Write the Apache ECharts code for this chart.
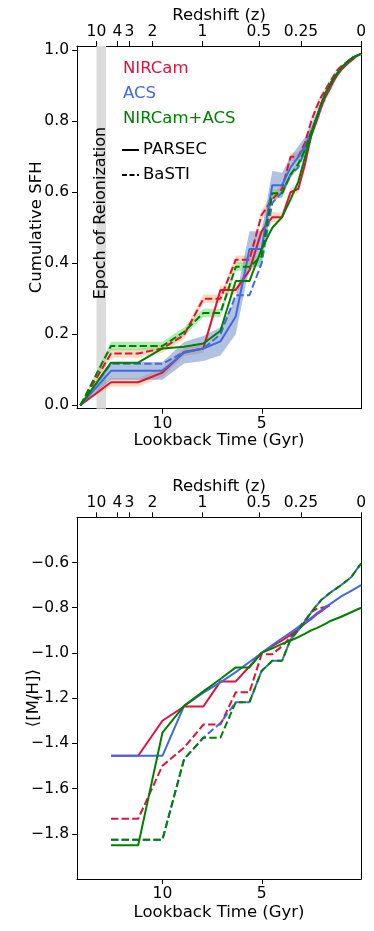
<!DOCTYPE html>
<html><head><meta charset="utf-8">
<script src="https://cdn.jsdelivr.net/npm/echarts@6/dist/echarts.min.js"></script>
<style>html,body{margin:0;padding:0;background:#fff}#c{width:374px;height:931px}</style>
</head><body><div id="c"></div>
<script>
// ---- data ----
const timesTop = [14.13, 12.59, 11.22, 10.0, 8.91, 7.94, 7.08, 6.31, 5.62, 5.01, 4.47, 3.98, 3.55, 3.16, 2.82, 2.51, 2.24, 2.0, 1.78, 1.58, 1.41, 1.26, 1.0, 0.63, 0.4, 0.2, 0];
const sfhNircamParsec = [0, .065, .065, .092, .15, .16, .325, .325, .38, .49, .53, .53, .60, .61, .68, .76, .80, .84, .87, .89, .91, .925, .945, .965, .975, .985, .99];
const sfhNircamBasti  = [0, .146, .146, .16, .198, .30, .30, .41, .41, .536, .58, .61, .70, .70, .74, .80, .84, .87, .89, .91, .925, .94, .955, .97, .98, .985, .99];
const sfhAcsParsec    = [0, .097, .097, .097, .148, .16, .18, .25, .44, .44, .62, .62, .67, .70, .73, .77, .81, .85, .88, .90, .92, .93, .95, .97, .98, .985, .99];
const sfhAcsBasti     = [0, .117, .117, .117, .15, .16, .20, .31, .31, .40, .57, .60, .65, .67, .72, .77, .81, .85, .88, .90, .92, .93, .95, .97, .98, .985, .99];
const sfhComboParsec  = [0, .12, .12, .16, .165, .174, .21, .35, .35, .44, .50, .53, .58, .63, .70, .76, .81, .85, .88, .90, .92, .93, .95, .97, .98, .985, .99];
const sfhComboBasti   = [0, .167, .167, .167, .207, .26, .26, .39, .39, .42, .597, .597, .65, .68, .72, .77, .81, .85, .88, .90, .92, .93, .95, .97, .98, .985, .99];
const errNircam = [0, .012, .012, .012, .012, .012, .012, .012, .012, .015, .015, .012, .012, .012, .01, .01, .01, .008, .008, .006, .006, .005, .005, .004, .003, .002, .002];
const errAcs    = [0, .025, .025, .025, .03, .035, .04, .05, .05, .05, .04, .035, .03, .03, .025, .02, .015, .012, .01, .008, .007, .006, .005, .004, .003, .002, .002];
const errCombo  = [0, .012, .012, .012, .012, .012, .012, .012, .012, .012, .012, .012, .01, .01, .01, .008, .008, .007, .006, .005, .005, .004, .004, .003, .003, .002, .002];

const timesBot = [12.59, 11.22, 10.0, 8.91, 7.94, 7.08, 6.31, 5.62, 5.01, 4.47, 3.98, 3.55, 3.16, 2.82, 2.51, 2.24, 2.0, 1.78, 1.58, 1.0, 0.5, 0];
const mhNircamParsec = [-1.455, -1.455, -1.30, -1.237, -1.237, -1.126, -1.126, -1.06, -1.0, -0.97, -0.945, -0.92, -0.895, -0.87, -0.85, -0.83, -0.815, -0.80, -0.79, null, null, null];
const mhNircamBasti  = [-1.733, -1.733, -1.499, -1.419, -1.317, -1.317, -1.174, -1.174, -1.006, -1.006, -0.97, -0.93, -0.89, -0.855, -0.82, -0.805, -0.80, -0.795, -0.79, null, null, null];
const mhAcsParsec    = [-1.455, -1.455, -1.455, -1.234, -1.176, -1.13, -1.085, -1.04, -1.0, -0.965, -0.935, -0.91, -0.885, -0.865, -0.845, -0.825, -0.81, -0.795, -0.785, -0.75, -0.725, -0.70];
const mhAcsBasti     = [-1.826, -1.826, -1.826, -1.47, -1.375, -1.31, -1.218, -1.218, -1.08, -1.035, -1.035, -0.94, -0.90, -0.86, -0.82, -0.79, -0.765, -0.75, -0.735, -0.70, -0.665, -0.604];
const mhComboParsec  = [-1.851, -1.851, -1.353, -1.234, -1.17, -1.115, -1.064, -1.064, -1.0, -0.98, -0.96, -0.945, -0.93, -0.915, -0.90, -0.89, -0.88, -0.87, -0.86, -0.84, -0.82, -0.80];
const mhComboBasti   = [-1.826, -1.826, -1.826, -1.47, -1.375, -1.375, -1.218, -1.218, -1.08, -1.035, -1.035, -0.94, -0.90, -0.86, -0.82, -0.79, -0.765, -0.75, -0.735, -0.70, -0.665, -0.604];

const lookbackTicks = [10, 5];
const sfhTicks = [0, 0.2, 0.4, 0.6, 0.8, 1.0];
const mhTicks = [-1.8, -1.6, -1.4, -1.2, -1.0, -0.8, -0.6];
const redshiftLabels = ['10', '4', '3', '2', '1', '0.5', '0.25', '0'];
const redshiftTimes = [13.32, 12.26, 11.66, 10.50, 7.99, 5.15, 3.03, 0];
const reionization = [13.32, 12.84];

// ---- styling ----
const FONT = 'DejaVu Sans';
const RED = '#dc143c', BLUE = '#4169e1', GREEN = '#008000';
const DASH = [7.4, 3.2];
const XMAX = 14.3;

function pts(xs, ys) { return xs.map((t, i) => [t, ys[i]]); }
function lineSeries(xs, ys, color, dashed, xi, yi) {
  return { type: 'line', xAxisIndex: xi, yAxisIndex: yi, data: pts(xs, ys), symbol: 'none',
    lineStyle: { color, width: 2, type: dashed ? DASH : 'solid' }, z: 3, silent: true, animation: false };
}
function bandSeries(xs, mid, err, color) {
  return { type: 'custom', xAxisIndex: 0, yAxisIndex: 0, coordinateSystem: 'cartesian2d',
    data: [[xs[0], mid[0]]], z: 1, silent: true, clip: true, animation: false,
    renderItem: (params, api) => {
      const up = xs.map((t, i) => api.coord([t, mid[i] + err[i]]));
      const dn = xs.map((t, i) => api.coord([t, mid[i] - err[i]])).reverse();
      return { type: 'polygon', shape: { points: up.concat(dn) }, style: { fill: color } };
    } };
}
const axisLine = { show: true, onZero: false, lineStyle: { color: '#000', width: 1 } };
const labelStyle = { fontFamily: FONT, fontSize: 15.5, color: '#000' };
const nameStyle = { fontFamily: FONT, fontSize: 16.5, color: '#000' };

function xBottom(gi, gap) {
  return { gridIndex: gi, type: 'value', position: 'bottom', min: 0, max: XMAX, inverse: true,
    axisLine, splitLine: { show: false },
    axisTick: { show: true, length: 5, lineStyle: { color: '#000' }, customValues: lookbackTicks },
    axisLabel: Object.assign({ customValues: lookbackTicks, margin: 7, formatter: v => String(v) }, labelStyle),
    name: 'Lookback Time (Gyr)', nameLocation: 'middle', nameGap: gap, nameMoveOverlap: false, nameTextStyle: nameStyle };
}
function xTop(gi) {
  return { gridIndex: gi, type: 'value', position: 'top', min: 0, max: XMAX, inverse: true,
    axisLine, splitLine: { show: false },
    axisTick: { show: true, length: 5, lineStyle: { color: '#000' }, customValues: redshiftTimes },
    axisLabel: Object.assign({ customValues: redshiftTimes, margin: 6,
      formatter: v => { const i = redshiftTimes.findIndex(t => Math.abs(t - v) < 1e-6); return i >= 0 ? redshiftLabels[i] : ''; } }, labelStyle),
    name: 'Redshift (z)', nameLocation: 'middle', nameGap: 22, nameMoveOverlap: false, nameTextStyle: nameStyle };
}
function yRight(gi, min, max) {
  return { gridIndex: gi, type: 'value', position: 'right', min, max, axisLine,
    axisTick: { show: false }, axisLabel: { show: false }, splitLine: { show: false } };
}

const series = [];
// reionization shading
series.push({ type: 'line', xAxisIndex: 0, yAxisIndex: 0, data: [], symbol: 'none', silent: true, z: 0,
  markArea: { silent: true, itemStyle: { color: '#dcdcdc' },
    data: [[{ xAxis: reionization[0] }, { xAxis: reionization[1] }]] } });
series.push(bandSeries(timesTop, sfhNircamParsec, errNircam, 'rgba(244,164,96,0.4)'));
series.push(bandSeries(timesTop, sfhNircamBasti, errNircam, 'rgba(244,164,96,0.4)'));
series.push(bandSeries(timesTop, sfhAcsParsec, errAcs, 'rgba(70,110,180,0.42)'));
series.push(bandSeries(timesTop, sfhComboBasti, errCombo, 'rgba(110,220,110,0.55)'));
series.push(lineSeries(timesTop, sfhNircamParsec, RED, false, 0, 0));
series.push(lineSeries(timesTop, sfhNircamBasti, RED, true, 0, 0));
series.push(lineSeries(timesTop, sfhAcsParsec, BLUE, false, 0, 0));
series.push(lineSeries(timesTop, sfhAcsBasti, BLUE, true, 0, 0));
series.push(lineSeries(timesTop, sfhComboParsec, GREEN, false, 0, 0));
series.push(lineSeries(timesTop, sfhComboBasti, GREEN, true, 0, 0));

series.push(lineSeries(timesBot, mhNircamParsec, RED, false, 2, 2));
series.push(lineSeries(timesBot, mhNircamBasti, RED, true, 2, 2));
series.push(lineSeries(timesBot, mhAcsParsec, BLUE, false, 2, 2));
series.push(lineSeries(timesBot, mhAcsBasti, BLUE, true, 2, 2));
series.push(lineSeries(timesBot, mhComboParsec, GREEN, false, 2, 2));
series.push(lineSeries(timesBot, mhComboBasti, GREEN, true, 2, 2));

const legendText = (text, x, y, color) => ({ type: 'text', x, y,
  style: { text, fill: color, font: '16.5px "DejaVu Sans"', verticalAlign: 'middle' }, z: 10 });

const option = {
  animation: false,
  backgroundColor: '#fff',
  grid: [
    { left: 77, top: 46, width: 284.1, height: 362.7 },
    { left: 77, top: 517.3, width: 284.1, height: 361.7 }
  ],
  xAxis: [ xBottom(0, 24), xTop(0), xBottom(1, 25), xTop(1) ],
  yAxis: [
    { gridIndex: 0, type: 'value', min: -0.0096, max: 1.012, axisLine, splitLine: { show: false },
      axisTick: { show: true, length: 5, lineStyle: { color: '#000' }, customValues: sfhTicks },
      axisLabel: Object.assign({ customValues: sfhTicks, margin: 8, formatter: v => v.toFixed(1) }, labelStyle),
      name: 'Cumulative SFH', nameLocation: 'middle', nameGap: 32, nameRotate: 90, nameMoveOverlap: false, nameTextStyle: nameStyle },
    yRight(0, -0.0096, 1.012),
    { gridIndex: 1, type: 'value', min: -2.0, max: -0.4, axisLine, splitLine: { show: false },
      axisTick: { show: true, length: 5, lineStyle: { color: '#000' }, customValues: mhTicks },
      axisLabel: Object.assign({ customValues: mhTicks, margin: 8, formatter: v => '\u2212' + Math.abs(v).toFixed(1) }, labelStyle),
      name: '\u27e8[M/H]\u27e9', nameLocation: 'middle', nameGap: 35, nameRotate: 90, nameMoveOverlap: false, nameTextStyle: nameStyle },
    yRight(1, -2.0, -0.4)
  ],
  graphic: [
    legendText('NIRCam', 123, 69, RED),
    legendText('ACS', 123, 94, BLUE),
    legendText('NIRCam+ACS', 123, 119, GREEN),
    { type: 'line', shape: { x1: 122, y1: 150, x2: 139, y2: 150 }, style: { stroke: '#000', lineWidth: 2 }, z: 10 },
    legendText('PARSEC', 143, 150, '#000'),
    { type: 'line', shape: { x1: 122, y1: 175, x2: 139, y2: 175 }, style: { stroke: '#000', lineWidth: 2, lineDash: [5, 2.5] }, z: 10 },
    legendText('BaSTI', 143, 175, '#000'),
    { type: 'text', x: 101, y: 213, rotation: Math.PI / 2,
      style: { text: 'Epoch of Reionization', fill: '#000', font: '16px "DejaVu Sans"', align: 'center', verticalAlign: 'middle' }, z: 10 }
  ],
  series
};
echarts.init(document.getElementById('c'), null, { renderer: 'canvas' }).setOption(option);
</script></body></html>
